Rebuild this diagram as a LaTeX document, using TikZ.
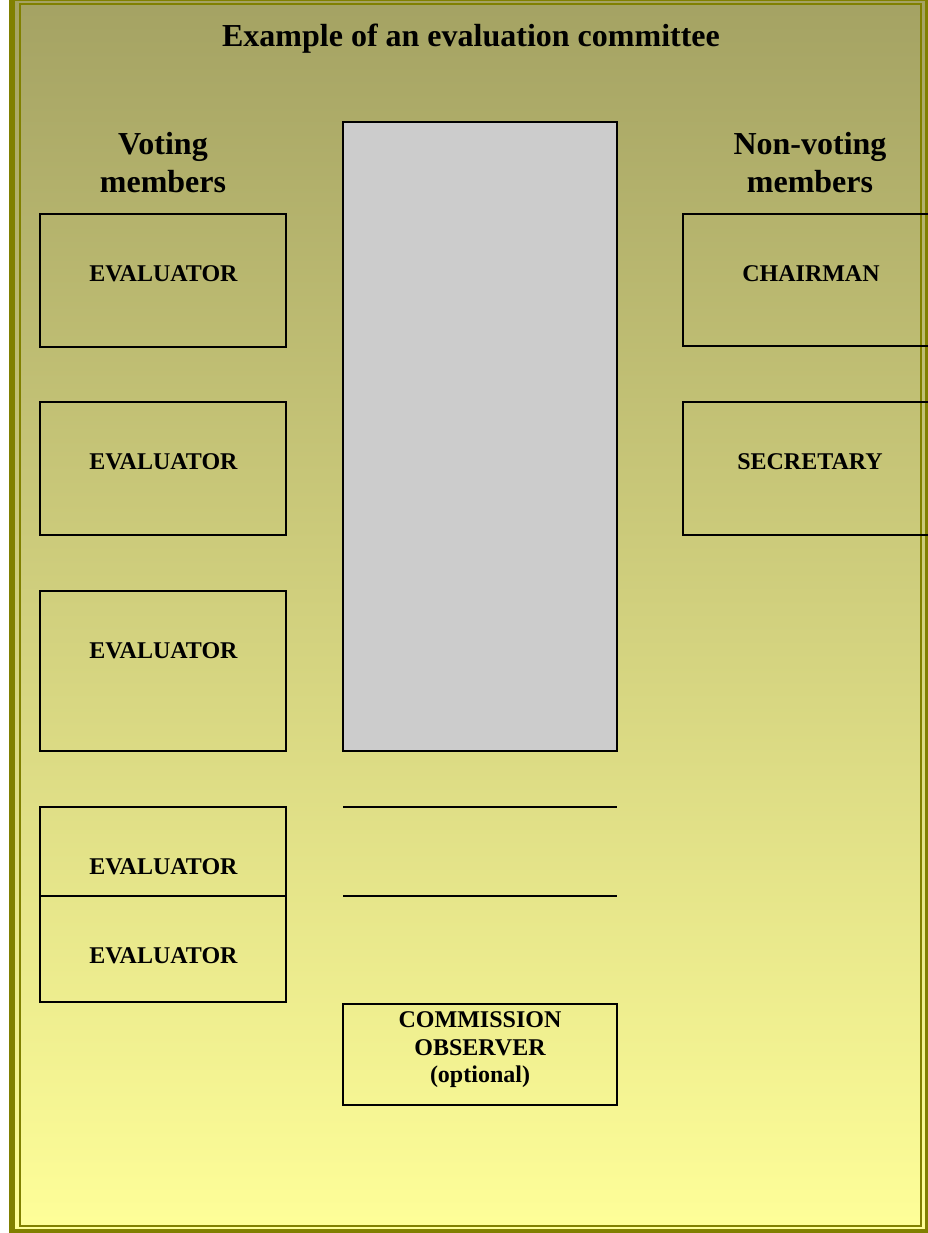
\documentclass[tikz,border=0pt]{standalone}
\usepackage{fontspec}
\setmainfont{Liberation Serif}
\definecolor{bgtop}{RGB}{164,162,99}
\definecolor{bgbottom}{RGB}{255,255,153}
\definecolor{frameolive}{RGB}{128,128,0}
\definecolor{tablegray}{RGB}{204,204,204}
\tikzset{
  member/.style={draw=black, line width=1.9pt, rectangle, inner sep=0pt},
  boxlabel/.style={font=\bfseries\fontsize{24}{27.5}\selectfont, inner sep=0pt, anchor=base},
  heading/.style={font=\bfseries\fontsize{32}{38}\selectfont, inner sep=0pt, anchor=base},
  rule/.style={line width=1.9pt, black}
}
\begin{document}
\begin{tikzpicture}[x=1pt, y=-1pt]
\useasboundingbox (0,0) rectangle (928,1233);
\clip (0,0) rectangle (928,1233);
% background panel with its double olive frame
\shade[top color=bgtop, bottom color=bgbottom] (9,-5) rectangle (931,1236);
\draw[frameolive, line width=6pt] (12,-2) rectangle (927.5,1232);
\draw[frameolive, line width=2pt] (20,4.5) rectangle (921,1226);

% title and column headings
\node[heading] (title) at (471,47) {Example of an evaluation committee};
\node[heading] (voting1) at (163,155) {Voting};
\node[heading] (voting2) at (163,193) {members};
\node[heading] (nonvoting1) at (810,155) {Non-voting};
\node[heading] (nonvoting2) at (810,193) {members};

% the table
\node[member, fill=tablegray, minimum width=274pt, minimum height=629pt] (table) at (480,436.5) {};

% voting members (left column)
\node[member, minimum width=246pt, minimum height=133pt] (ev1) at (163,280.5) {};
\node[member, minimum width=246pt, minimum height=133pt] (ev2) at (163,468.5) {};
\node[member, minimum width=246pt, minimum height=160pt] (ev3) at (163,671) {};
\node[member, minimum width=246pt, minimum height=89pt] (ev4) at (163,851.5) {};
\node[member, minimum width=246pt, minimum height=106pt] (ev5) at (163,949) {};
\node[boxlabel] (ev1t) at (163.5,281) {EVALUATOR};
\node[boxlabel] (ev2t) at (163.5,469) {EVALUATOR};
\node[boxlabel] (ev3t) at (163.5,658) {EVALUATOR};
\node[boxlabel] (ev4t) at (163.5,874) {EVALUATOR};
\node[boxlabel] (ev5t) at (163.5,963) {EVALUATOR};

% non-voting members (right column, running off the edge)
\node[member, minimum width=260pt, minimum height=132pt] (chair) at (813,280) {};
\node[member, minimum width=260pt, minimum height=133pt] (secr) at (813,468.5) {};
\node[boxlabel] (chairt) at (811,281) {CHAIRMAN};
\node[boxlabel] (secrt) at (810,469) {SECRETARY};

% rules below the table
\coordinate (r1a) at (343,807);
\coordinate (r1b) at (617,807);
\coordinate (r2a) at (343,896);
\coordinate (r2b) at (617,896);
\draw[rule] (r1a) -- (r1b);
\draw[rule] (r2a) -- (r2b);

% observer
\node[member, minimum width=274pt, minimum height=101pt] (obs) at (480,1054.5) {};
\node[boxlabel] (obs1) at (480,1027) {COMMISSION};
\node[boxlabel] (obs2) at (480,1055) {OBSERVER};
\node[boxlabel] (obs3) at (480,1082) {(optional)};
\end{tikzpicture}
\end{document}
